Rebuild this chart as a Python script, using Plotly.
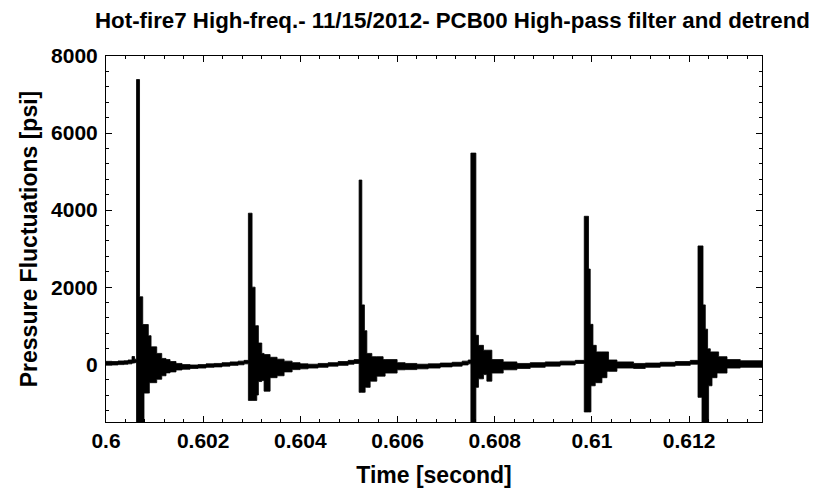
import plotly.graph_objects as go

# time stamps [s] where the signal envelope changes
time_s = [
    0.600000, 0.600124, 0.600247, 0.600371, 0.600453, 0.600535, 0.600587,
    0.600628, 0.600690, 0.600756, 0.600782, 0.600871, 0.600892, 0.600927,
    0.601044, 0.601147, 0.601235, 0.601318, 0.601441, 0.601565, 0.601730,
    0.601894, 0.602059, 0.602224, 0.602388, 0.602553, 0.602718, 0.602841,
    0.602930, 0.603006, 0.603068, 0.603103, 0.603136, 0.603206, 0.603253,
    0.603377, 0.603521, 0.603665, 0.603830, 0.603994, 0.604159, 0.604365,
    0.604571, 0.604777, 0.604983, 0.605106,
    0.605209, 0.605265, 0.605318, 0.605333, 0.605368, 0.605436, 0.605471,
    0.605573, 0.605703, 0.605744, 0.605991, 0.606156, 0.606397, 0.606630,
    0.606877, 0.607124, 0.607330, 0.607453,
    0.607509, 0.607612, 0.607665, 0.607768, 0.607838, 0.607941, 0.608174,
    0.608456, 0.608730, 0.609039, 0.609347, 0.609656,
    0.609842, 0.609930, 0.609965, 0.609980, 0.610021, 0.610068, 0.610089,
    0.610206, 0.610309, 0.610342, 0.610515, 0.610857, 0.611098, 0.611406,
    0.611715, 0.612024,
    0.612183, 0.612265, 0.612286, 0.612333, 0.612380, 0.612401, 0.612436,
    0.612471, 0.612574, 0.612607, 0.612780, 0.613053, 0.613500,
]

# upper / lower edge of the (dense) pressure trace [psi], one value per segment
upper_psi = [
    75, 70, 85, 90, 110, 200, 130,
    7390, 1750, 1030, 1030, 740, 740, 450,
    280, 150, 120, 70, 20, -10, -20,
    -10, 10, 20, 40, 60, 80, 100,
    3920, 2000, 1000, 1000, 550, 280, 250,
    180, 130, 80, 40, 10, 0, 20,
    40, 70, 100, 120,
    4780, 1540, 870, 870, 280, 280, 195,
    195, 120, 120, 40, 20, 0, 10,
    30, 50, 80, 110,
    5480, 750, 490, 364, 364, 120, 60,
    20, 40, 60, 80, 100,
    3840, 2470, 1035, 1035, 490, 490, 320,
    320, 320, 110, 60, 20, 30, 50,
    70, 100,
    3070, 3070, 1540, 910, 400, 400, 320,
    320, 320, 195, 120, 90,
]
lower_psi = [
    -25, -20, -10, 0, 10, 30, 40,
    -1600, -1600, -1600, -750, -750, -480, -480,
    -390, -300, -225, -200, -150, -130, -110,
    -100, -80, -70, -50, -30, -15, 10,
    -940, -940, -940, -800, -450, -420, -700,
    -350, -300, -200, -140, -120, -100, -80,
    -50, -30, 0, 20,
    -730, -730, -730, -600, -600, -440, -440,
    -310, -310, -230, -145, -140, -120, -100,
    -70, -50, -20, 10,
    -1600, -600, -380, -270, -440, -230, -145,
    -110, -80, -50, -20, 20,
    -1240, -1240, -1240, -560, -560, -480, -480,
    -350, -185, -185, -100, -110, -80, -50,
    -30, 0,
    -860, -1600, -1600, -1600, -1600, -560, -560,
    -350, -230, -230, -100, -80,
]

title = "Hot-fire7 High-freq.- 11/15/2012- PCB00 High-pass filter and detrend"
family = "Liberation Sans, Arial, sans-serif"
tick_font = dict(family=family, size=21, color="black", weight="bold")
label_font = dict(family=family, size=23, color="black", weight="bold")
title_font = dict(family=family, size=22.3, color="black", weight="bold")

# the html page keeps an 8px body margin, so the figure is 8px smaller than the window
W, H = 811, 487

# outline of the black band: upper edge left->right, lower edge right->left (step shape)
poly_x, poly_y = [], []
for i in range(len(upper_psi)):
    poly_x += [time_s[i], time_s[i + 1]]
    poly_y += [upper_psi[i], upper_psi[i]]
for i in reversed(range(len(lower_psi))):
    poly_x += [time_s[i + 1], time_s[i]]
    poly_y += [lower_psi[i], lower_psi[i]]

fig = go.Figure(go.Scatter(
    x=poly_x, y=poly_y, mode="lines", fill="toself", fillcolor="black",
    line=dict(color="black", width=0.8, simplify=False), hoverinfo="skip",
))

axis_common = dict(showline=True, linecolor="black", linewidth=1, mirror="ticks",
                   ticks="inside", ticklen=6, tickcolor="black", showgrid=False,
                   zeroline=False, tickfont=tick_font)

fig.update_xaxes(range=[0.6, 0.6135], tick0=0.6, dtick=0.002,
                 minor=dict(dtick=0.0004, ticks="inside", ticklen=3, tickcolor="black"),
                 title=dict(text="Time [second]", font=label_font, standoff=15),
                 **axis_common)
fig.update_yaxes(range=[-1500, 8000], tick0=0, dtick=2000, tickformat="d",
                 minor=dict(dtick=400, ticks="inside", ticklen=3, tickcolor="black"),
                 title=dict(text="Pressure Fluctuations [psi]", font=label_font, standoff=7),
                 ticklabelstandoff=3,
                 **axis_common)

fig.update_layout(
    width=W, height=H,
    margin=dict(l=98, r=57, t=48, b=62),
    paper_bgcolor="white", plot_bgcolor="white",
    showlegend=False,
    title=dict(text=title, font=title_font, x=87 / W, xanchor="left",
               y=1 - 12 / H, yanchor="middle"),
)

fig.write_html("out.html", config={"displayModeBar": False})
